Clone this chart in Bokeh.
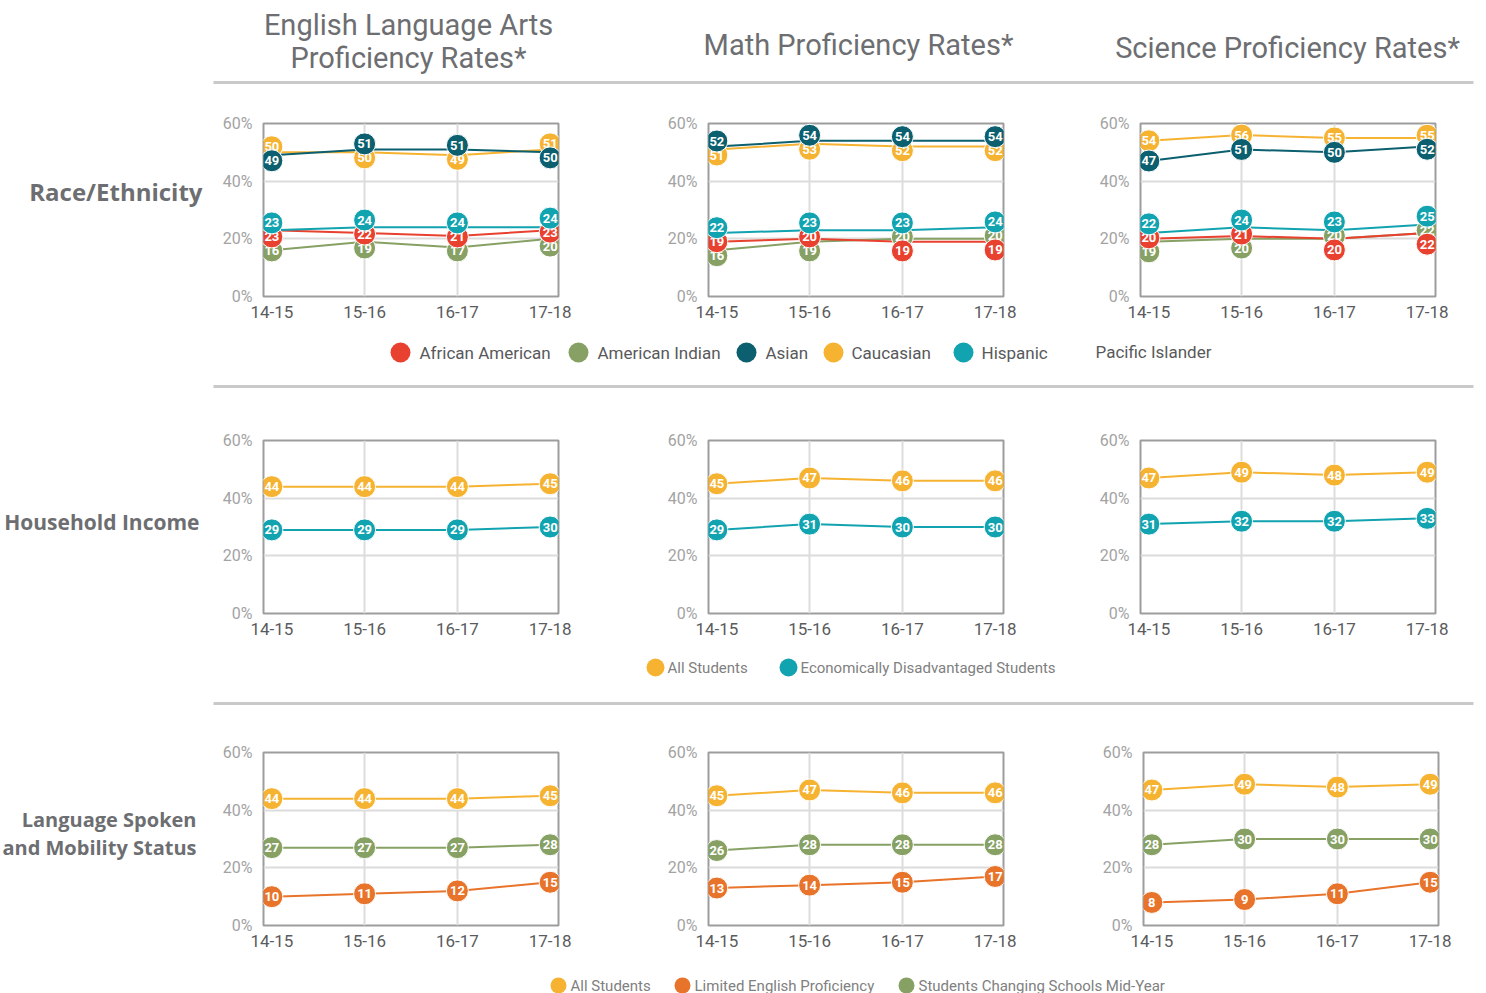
from bokeh.plotting import figure
from bokeh.layouts import column, row
from bokeh.models import Range1d, FixedTicker, PrintfTickFormatter, ColumnDataSource
from bokeh.core.properties import value
from bokeh.embed import file_html
from bokeh.resources import INLINE

# ---------------- data ----------------
years = ["14-15", "15-16", "16-17", "17-18"]
y_ticks = [0, 20, 40, 60]

row_labels = ["Race/Ethnicity", "Household Income", "Language Spoken\nand Mobility Status"]

race_groups = ["African American", "American Indian", "Asian", "Caucasian", "Hispanic"]
ela_african_american = [23, 22, 21, 23]
ela_american_indian = [16, 19, 17, 20]
ela_asian = [49, 51, 51, 50]
ela_caucasian = [50, 50, 49, 51]
ela_hispanic = [23, 24, 24, 24]

math_african_american = [19, 20, 19, 19]
math_american_indian = [16, 19, 20, 20]
math_asian = [52, 54, 54, 54]
math_caucasian = [51, 53, 52, 52]
math_hispanic = [22, 23, 23, 24]

sci_african_american = [20, 21, 20, 22]
sci_american_indian = [19, 20, 20, 22]
sci_asian = [47, 51, 50, 52]
sci_caucasian = [54, 56, 55, 55]
sci_hispanic = [22, 24, 23, 25]

income_groups = ["All Students", "Economically Disadvantaged Students"]
ela_all = [44, 44, 44, 45]
ela_econ = [29, 29, 29, 30]
math_all = [45, 47, 46, 46]
math_econ = [29, 31, 30, 30]
sci_all = [47, 49, 48, 49]
sci_econ = [31, 32, 32, 33]

lang_groups = ["All Students", "Limited English Proficiency", "Students Changing Schools Mid-Year"]
ela_lep = [10, 11, 12, 15]
ela_mobility = [27, 27, 27, 28]
math_lep = [13, 14, 15, 17]
math_mobility = [26, 28, 28, 28]
sci_lep = [8, 9, 11, 15]
sci_mobility = [28, 30, 30, 30]

# ---------------- style ----------------
RED = "#E8412F"
GREEN = "#87A164"
DARK = "#0B5F6E"
YELLOW = "#F6B332"
TEAL = "#12A3B0"
ORANGE = "#E8732A"
race_colors = [RED, GREEN, DARK, YELLOW, TEAL]
race_draw_order = [1, 0, 4, 3, 2]
income_colors = [YELLOW, TEAL]
lang_colors = [YELLOW, ORANGE, GREEN]

FONT = value("Roboto")
FRAME_W = 295
FRAME_H = 173
PAD = 0.09
MARKER = 22
GAP_PCT = 14 / (FRAME_H / 60.0)


def repel(series_list, gap):
    """Spread overlapping markers apart vertically (collision avoidance)."""
    n = len(series_list[0])
    out = [[float(v) for v in s] for s in series_list]
    for i in range(n):
        order = sorted(range(len(series_list)), key=lambda k: (series_list[k][i], k))
        ys = [float(series_list[k][i]) for k in order]
        for _ in range(200):
            moved = False
            for j in range(len(ys) - 1):
                d = ys[j + 1] - ys[j]
                if d < gap - 1e-6:
                    s = (gap - d) / 2.0
                    ys[j] -= s
                    ys[j + 1] += s
                    moved = True
            if not moved:
                break
        for k, y in zip(order, ys):
            out[k][i] = y
    return out


def deco(width, height, y0=None, y1=None):
    if y0 is None:
        y0, y1 = 0, height
    p = figure(width=width, height=height, x_range=Range1d(0, width), y_range=Range1d(y1, y0),
               output_backend="svg", toolbar_location=None, min_border=0,
               x_axis_location=None, y_axis_location=None)
    p.grid.visible = False
    p.outline_line_color = None
    return p


def panel(width, height, left, top, series_list, colors, draw_order=None):
    right = width - left - FRAME_W
    bottom = height - top - FRAME_H
    p = figure(width=width, height=height, x_range=Range1d(-PAD, len(years) - 1 + PAD),
               y_range=Range1d(0, 60), output_backend="svg", toolbar_location=None,
               min_border_left=left, min_border_right=right,
               min_border_top=top, min_border_bottom=bottom)
    p.outline_line_color = "#9d9d9d"
    p.outline_line_width = 2
    p.xaxis.ticker = FixedTicker(ticks=list(range(len(years))))
    p.xaxis.major_label_overrides = {i: y for i, y in enumerate(years)}
    p.yaxis.ticker = FixedTicker(ticks=y_ticks)
    p.yaxis.formatter = PrintfTickFormatter(format="%d%%")
    for ax in (p.xaxis[0], p.yaxis[0]):
        ax.axis_line_color = None
        ax.major_tick_line_color = None
        ax.minor_tick_line_color = None
        ax.major_label_text_font = "Roboto"
    p.xaxis.major_label_text_color = "#5a5b5d"
    p.xaxis.major_label_text_font_size = "17px"
    p.xaxis.major_label_standoff = 3
    p.yaxis.major_label_text_color = "#a3a3a3"
    p.yaxis.major_label_text_font_size = "16px"
    p.yaxis.major_label_standoff = 5
    p.xgrid.ticker = FixedTicker(ticks=[1, 2])
    p.ygrid.ticker = FixedTicker(ticks=[20, 40])
    p.xgrid.grid_line_color = "#dcdcdc"
    p.ygrid.grid_line_color = "#dcdcdc"
    p.xgrid.grid_line_width = 2
    p.ygrid.grid_line_width = 2

    xs = list(range(len(years)))
    disp = repel(series_list, GAP_PCT)
    order = draw_order if draw_order is not None else list(range(len(series_list)))
    for k in order:
        p.line(xs, series_list[k], line_color=colors[k], line_width=2)
    for k in order:
        src = ColumnDataSource(dict(x=xs, y=disp[k], lab=[str(v) for v in series_list[k]]))
        p.scatter("x", "y", source=src, size=MARKER, fill_color=colors[k], line_color="white", line_width=1)
        p.text("x", "y", text="lab", source=src, text_align="center", text_baseline="middle",
               text_color="white", text_font=FONT, text_font_style="bold", text_font_size="13px")
    return p


def row_label(frame_top, lines, x, ys, size):
    # the label figure's frame is aligned with the panel frames of its row,
    # so its y range is expressed in page pixels of that frame
    p = deco(215, 100, frame_top, frame_top + FRAME_H)
    p.text(x=[x] * len(lines), y=ys, text=lines, text_align="right", text_baseline="middle",
           text_color="#6d6e71", text_font=value("Open Sans"), text_font_style="bold",
           text_font_size=size)
    return p


def legend(p, names, colors, cx, tx, y, r, size, color):
    p.scatter(x=cx, y=[y] * len(cx), size=2 * r, fill_color=colors, line_color=None)
    p.text(x=tx, y=[y] * len(tx), text=names, text_align="left", text_baseline="middle",
           text_color=color, text_font=FONT, text_font_size=size)


# ---------------- header ----------------
header = deco(1478, 100)
subject_titles = ["English Language Arts", "Proficiency Rates*", "Math Proficiency Rates*",
                  "Science Proficiency Rates*"]
header.text(x=[408, 408, 858, 1287], y=[24, 57, 44, 47], text=subject_titles,
            text_align="center", text_baseline="middle", text_color="#6d6e71",
            text_font=FONT, text_font_size="29px")
header.line(x=[213, 1473], y=[82, 82], line_color="#c9c9c9", line_width=3)

# ---------------- row 1 ----------------
H1 = 230
lab1 = row_label(123, [row_labels[0]], 202, [191], "24px")
lab1.height = H1
r1 = row(
    lab1,
    panel(445, H1, 48, 23, [ela_african_american, ela_american_indian, ela_asian, ela_caucasian, ela_hispanic], race_colors, race_draw_order),
    panel(430, H1, 48, 23, [math_african_american, math_american_indian, math_asian, math_caucasian, math_hispanic], race_colors, race_draw_order),
    panel(388, H1, 50, 23, [sci_african_american, sci_american_indian, sci_asian, sci_caucasian, sci_hispanic], race_colors, race_draw_order),
)

leg1 = deco(1478, 70)
legend(leg1, race_groups, race_colors, [400, 578, 746, 833, 963], [419, 597, 765, 851, 981],
       22, 10, "17px", "#58595b")
leg1.text(x=[1095], y=[21], text=["Pacific Islander"], text_align="left", text_baseline="middle",
          text_color="#58595b", text_font=FONT, text_font_size="17px")
leg1.line(x=[213, 1473], y=[56, 56], line_color="#c9c9c9", line_width=3)

# ---------------- row 2 ----------------
H2 = 245
lab2 = row_label(440, [row_labels[1]], 199, [521], "21px")
lab2.height = H2
r2 = row(
    lab2,
    panel(445, H2, 48, 40, [ela_all, ela_econ], income_colors),
    panel(430, H2, 48, 40, [math_all, math_econ], income_colors),
    panel(388, H2, 50, 40, [sci_all, sci_econ], income_colors),
)

leg2 = deco(1478, 75)
legend(leg2, income_groups, income_colors, [655, 788], [667, 800], 22, 9, "15px", "#808080")
leg2.line(x=[213, 1473], y=[58, 58], line_color="#c9c9c9", line_width=3)

# ---------------- row 3 ----------------
H3 = 240
lab3 = row_label(752, row_labels[2].split("\n"), 196, [819, 847], "20px")
lab3.height = H3
r3 = row(
    lab3,
    panel(445, H3, 48, 32, [ela_all, ela_lep, ela_mobility], lang_colors),
    panel(430, H3, 48, 32, [math_all, math_lep, math_mobility], lang_colors),
    panel(388, H3, 53, 32, [sci_all, sci_lep, sci_mobility], lang_colors),
)

leg3 = deco(1478, 33)
legend(leg3, lang_groups, lang_colors, [558, 682, 906], [570, 694, 918], 25, 8, "15px", "#808080")

layout = column(header, r1, leg1, r2, leg2, r3, leg3)

open("out.html", "w").write(file_html(layout, INLINE))
